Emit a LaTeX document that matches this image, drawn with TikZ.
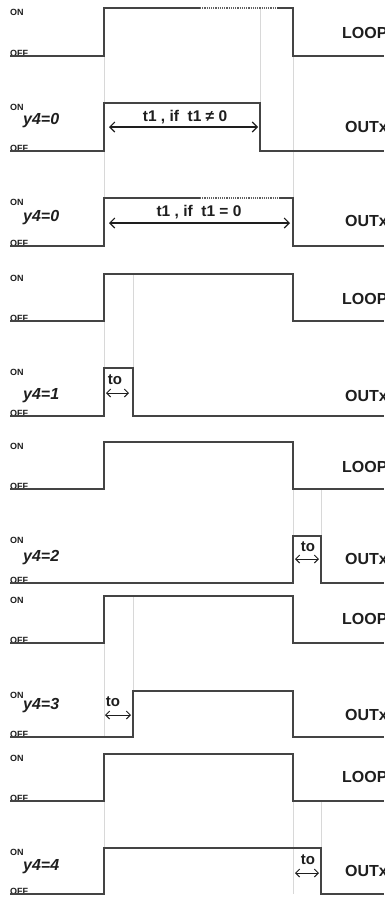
\documentclass[tikz,border=0pt]{standalone}
\usepackage{fontspec}
\setmainfont{Liberation Sans}
\usetikzlibrary{arrows.meta}
\definecolor{wavec}{HTML}{444444}
\definecolor{guidec}{HTML}{D8D8D8}
\definecolor{txtc}{HTML}{1E1E1E}
\tikzset{
  wave/.style={line width=1.6pt, draw=wavec, line join=miter},
  guide/.style={line width=0.7pt, draw=guidec},
  dotline/.style={line width=1.1pt, draw=wavec!85, dash pattern=on 1.2pt off 1pt},
  lvl/.style={font=\bfseries\fontsize{9}{9}\selectfont, text=txtc, inner sep=0},
  sig/.style={font=\bfseries\fontsize{16}{16}\selectfont, text=txtc, anchor=west, inner sep=0},
  ylab/.style={font=\bfseries\itshape\fontsize{16}{16}\selectfont, text=txtc, anchor=west, inner sep=0},
  tlab/.style={font=\bfseries\fontsize{15.5}{15.5}\selectfont, text=txtc, inner sep=0},
  tolab/.style={font=\bfseries\fontsize{15}{15}\selectfont, text=txtc, inner sep=0},
  dimarrow/.style={{Straight Barb[length=5pt,width=10pt]}-{Straight Barb[length=5pt,width=10pt]}, line width=1.1pt, draw=txtc},
  smallarrow/.style={{Straight Barb[length=4pt,width=8pt]}-{Straight Barb[length=4pt,width=8pt]}, line width=1pt, draw=txtc}
}
\newcommand{\levels}[3]{% name, on, off
  \node[lvl, anchor=west] (#1on) at (10,#2+4) {ON};
  \node[lvl, anchor=base west] (#1off) at (10,#3+0.8) {OFF};
}
\begin{document}
\begin{tikzpicture}[x=1pt,y=-1pt]
\useasboundingbox (0,0) rectangle (384,897);
\fill[white] (0,0) rectangle (384,897);

% ---------- guides ----------
\draw[guide] (104,56) -- (104,103);
\draw[guide] (104,151) -- (104,198);
\draw[guide] (260,8) -- (260,103);
\draw[guide] (293,56) -- (293,198);
\draw[guide] (104,321) -- (104,368);
\draw[guide] (133,274) -- (133,368);
\draw[guide] (293,489) -- (293,536);
\draw[guide] (321,489) -- (321,536);
\draw[guide] (104,643) -- (104,737);
\draw[guide] (133,596) -- (133,691);
\draw[guide] (104,801) -- (104,848);
\draw[guide] (293,801) -- (293,894);
\draw[guide] (321,801) -- (321,848);

% ---------- panel 1: LOOP ----------
\levels{p1}{8}{56}
\draw[wave] (10,56) -- (104,56) -- (104,8) -- (200,8);
\draw[dotline] (200,8) -- (277,8);
\draw[wave] (277,8) -- (293,8) -- (293,56) -- (384,56);
\node[sig] (loop1) at (342,33) {LOOP};

% ---------- panel 2 ----------
\levels{p2}{103}{151}
\draw[wave] (10,151) -- (104,151) -- (104,103) -- (260,103) -- (260,151) -- (384,151);
\coordinate (a2l) at (109,127);
\coordinate (a2r) at (258,127);
\draw[dimarrow] (a2l) -- (a2r);
\node[tlab] (t2) at (185,117) {t1 , if\ \ t1 ≠ 0};
\node[ylab] (y2) at (23,121) {y4=0};
\node[sig] (out2) at (345,127) {OUTx};

% ---------- panel 3 ----------
\levels{p3}{198}{246}
\draw[wave] (10,246) -- (104,246) -- (104,198) -- (200,198);
\draw[dotline] (200,198) -- (279,198);
\draw[wave] (279,198) -- (293,198) -- (293,246) -- (384,246);
\coordinate (a3l) at (109,223);
\coordinate (a3r) at (290,223);
\draw[dimarrow] (a3l) -- (a3r);
\node[tlab] (t3) at (199,212) {t1 , if\ \ t1 = 0};
\node[ylab] (y3) at (23,218) {y4=0};
\node[sig] (out3) at (345,221) {OUTx};

% ---------- panel 4: LOOP ----------
\levels{p4}{274}{321}
\draw[wave] (10,321) -- (104,321) -- (104,274) -- (293,274) -- (293,321) -- (384,321);
\node[sig] (loop4) at (342,299) {LOOP};

% ---------- panel 5 ----------
\levels{p5}{368}{416}
\draw[wave] (10,416) -- (104,416) -- (104,368) -- (133,368) -- (133,416) -- (384,416);
\node[tolab] (to5) at (115,380) {to};
\coordinate (a5l) at (106,393);
\coordinate (a5r) at (129,393);
\draw[smallarrow] (a5l) -- (a5r);
\node[ylab] (y5) at (23,396) {y4=1};
\node[sig] (out5) at (345,396) {OUTx};

% ---------- panel 6: LOOP ----------
\levels{p6}{442}{489}
\draw[wave] (10,489) -- (104,489) -- (104,442) -- (293,442) -- (293,489) -- (384,489);
\node[sig] (loop6) at (342,467) {LOOP};

% ---------- panel 7 ----------
\levels{p7}{536}{583}
\draw[wave] (10,583) -- (293,583) -- (293,536) -- (321,536) -- (321,583) -- (384,583);
\node[tolab] (to7) at (308,547) {to};
\coordinate (a7l) at (295,559);
\coordinate (a7r) at (319,559);
\draw[smallarrow] (a7l) -- (a7r);
\node[ylab] (y7) at (23,558) {y4=2};
\node[sig] (out7) at (345,559) {OUTx};

% ---------- panel 8: LOOP ----------
\levels{p8}{596}{643}
\draw[wave] (10,643) -- (104,643) -- (104,596) -- (293,596) -- (293,643) -- (384,643);
\node[sig] (loop8) at (342,619) {LOOP};

% ---------- panel 9 ----------
\levels{p9}{691}{737}
\draw[wave] (10,737) -- (133,737) -- (133,691) -- (293,691) -- (293,737) -- (384,737);
\node[tolab] (to9) at (113,702) {to};
\coordinate (a9l) at (105,715);
\coordinate (a9r) at (131,715);
\draw[smallarrow] (a9l) -- (a9r);
\node[ylab] (y9) at (23,706) {y4=3};
\node[sig] (out9) at (345,715) {OUTx};

% ---------- panel 10: LOOP ----------
\levels{p10}{754}{801}
\draw[wave] (10,801) -- (104,801) -- (104,754) -- (293,754) -- (293,801) -- (384,801);
\node[sig] (loop10) at (342,777) {LOOP};

% ---------- panel 11 ----------
\levels{p11}{848}{894}
\draw[wave] (10,894) -- (104,894) -- (104,848) -- (321,848) -- (321,894) -- (384,894);
\node[tolab] (to11) at (308,860) {to};
\coordinate (a11l) at (295,873);
\coordinate (a11r) at (319,873);
\draw[smallarrow] (a11l) -- (a11r);
\node[ylab] (y11) at (23,867) {y4=4};
\node[sig] (out11) at (345,871) {OUTx};
\end{tikzpicture}
\end{document}
